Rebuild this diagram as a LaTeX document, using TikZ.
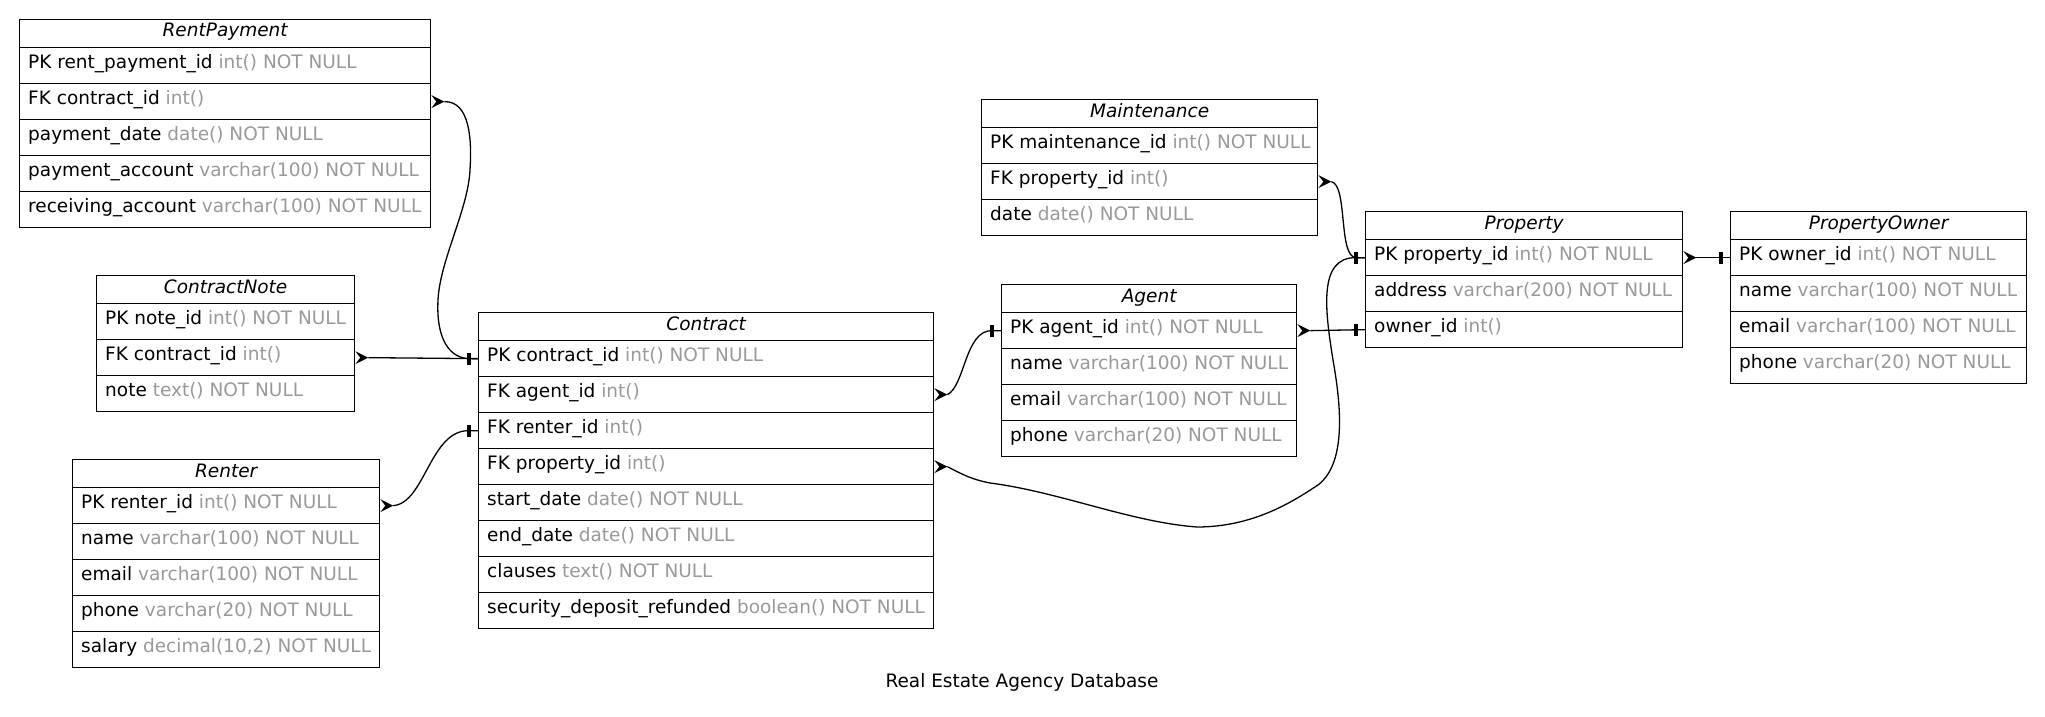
\documentclass[tikz,border=0pt]{standalone}
\usepackage{fontspec}
\setmainfont{DejaVu Sans}
\usetikzlibrary{calc}
\definecolor{typegray}{RGB}{153,153,153}
\tikzset{
  hdrbox/.style={draw, line width=1.3, rectangle, inner sep=0, minimum height=28, anchor=north west},
  rowbox/.style={draw, line width=1.3, rectangle, inner sep=0, minimum height=36, anchor=north west},
  hdrtext/.style={anchor=base, inner sep=0, font=\fontsize{18.5}{22}\selectfont\itshape},
  rowtext/.style={anchor=base west, inner sep=0, font=\fontsize{18.5}{22}\selectfont},
  titletext/.style={anchor=base, inner sep=0, font=\fontsize{18.5}{22}\selectfont},
  conn/.style={line width=1.3}
}
\newcommand{\erhead}[5]{%
  \node[hdrbox, minimum width=#4] (#1) at (#2,#3) {};
  \node[hdrtext] (#1-t) at ([yshift=-18]#1.north) {#5};
}
\newcommand{\errow}[6]{%
  \node[rowbox, minimum width=#4] (#1) at (#2,#3) {};
  \node[rowtext] (#1-t) at ([xshift=9,yshift=-21.5]#1.north west) {#5 \textcolor{typegray}{#6}};
}
\newcommand{\teeat}[1]{\fill ($(#1)+(-11,-6)$) rectangle ($(#1)+(-7,6)$);}
\newcommand{\crowat}[1]{\fill ($(#1)+(0,-6.5)$) -- ($(#1)+(13,0)$) -- ($(#1)+(0,6.5)$) -- ($(#1)+(5,0)$) -- cycle;}
\begin{document}
\begin{tikzpicture}[x=1pt,y=-1pt]
\useasboundingbox (0,0) rectangle (2045,717);
\fill[white] (0,0) rectangle (2045,717);

% RentPayment
\erhead{rp}{19}{19}{411}{RentPayment}
\errow{rp1}{19}{47}{411}{PK rent\_payment\_id}{int() NOT NULL}
\errow{rp2}{19}{83}{411}{FK contract\_id}{int()}
\errow{rp3}{19}{119}{411}{payment\_date}{date() NOT NULL}
\errow{rp4}{19}{155}{411}{payment\_account}{varchar(100) NOT NULL}
\errow{rp5}{19}{191}{411}{receiving\_account}{varchar(100) NOT NULL}

% ContractNote
\erhead{cn}{96}{275}{258}{ContractNote}
\errow{cn1}{96}{303}{258}{PK note\_id}{int() NOT NULL}
\errow{cn2}{96}{339}{258}{FK contract\_id}{int()}
\errow{cn3}{96}{375}{258}{note}{text() NOT NULL}

% Renter
\erhead{rn}{72}{459}{307}{Renter}
\errow{rn1}{72}{487}{307}{PK renter\_id}{int() NOT NULL}
\errow{rn2}{72}{523}{307}{name}{varchar(100) NOT NULL}
\errow{rn3}{72}{559}{307}{email}{varchar(100) NOT NULL}
\errow{rn4}{72}{595}{307}{phone}{varchar(20) NOT NULL}
\errow{rn5}{72}{631}{307}{salary}{decimal(10,2) NOT NULL}

% Contract
\erhead{ct}{478}{312}{455}{Contract}
\errow{ct1}{478}{340}{455}{PK contract\_id}{int() NOT NULL}
\errow{ct2}{478}{376}{455}{FK agent\_id}{int()}
\errow{ct3}{478}{412}{455}{FK renter\_id}{int()}
\errow{ct4}{478}{448}{455}{FK property\_id}{int()}
\errow{ct5}{478}{484}{455}{start\_date}{date() NOT NULL}
\errow{ct6}{478}{520}{455}{end\_date}{date() NOT NULL}
\errow{ct7}{478}{556}{455}{clauses}{text() NOT NULL}
\errow{ct8}{478}{592}{455}{security\_deposit\_refunded}{boolean() NOT NULL}

% Maintenance
\erhead{mt}{981}{99}{336}{Maintenance}
\errow{mt1}{981}{127}{336}{PK maintenance\_id}{int() NOT NULL}
\errow{mt2}{981}{163}{336}{FK property\_id}{int()}
\errow{mt3}{981}{199}{336}{date}{date() NOT NULL}

% Agent
\erhead{ag}{1001}{284}{295}{Agent}
\errow{ag1}{1001}{312}{295}{PK agent\_id}{int() NOT NULL}
\errow{ag2}{1001}{348}{295}{name}{varchar(100) NOT NULL}
\errow{ag3}{1001}{384}{295}{email}{varchar(100) NOT NULL}
\errow{ag4}{1001}{420}{295}{phone}{varchar(20) NOT NULL}

% Property
\erhead{pr}{1365}{211}{317}{Property}
\errow{pr1}{1365}{239}{317}{PK property\_id}{int() NOT NULL}
\errow{pr2}{1365}{275}{317}{address}{varchar(200) NOT NULL}
\errow{pr3}{1365}{311}{317}{owner\_id}{int()}

% PropertyOwner
\erhead{po}{1730}{211}{296}{PropertyOwner}
\errow{po1}{1730}{239}{296}{PK owner\_id}{int() NOT NULL}
\errow{po2}{1730}{275}{296}{name}{varchar(100) NOT NULL}
\errow{po3}{1730}{311}{296}{email}{varchar(100) NOT NULL}
\errow{po4}{1730}{347}{296}{phone}{varchar(20) NOT NULL}

% Connectors
% RentPayment.contract_id -> Contract.contract_id
\draw[conn] ($(rp2.east)+(13,0)$) .. controls (470,101) and (472,140) .. (470,170)
  .. controls (468,210) and (440,260) .. (438,300)
  .. controls (436,340) and (450,358) .. ($(ct1.west)+(-9,0)$) -- (ct1.west);
\crowat{rp2.east}
% ContractNote.contract_id -> Contract.contract_id
\draw[conn] ($(cn2.east)+(13,0)$) -- (ct1.west);
\crowat{cn2.east}
\teeat{ct1.west}
% Renter.renter_id -> Contract.renter_id
\draw[conn] ($(rn1.east)+(13,0)$) .. controls (425,503) and (430,430) .. ($(ct3.west)+(-9,0)$) -- (ct3.west);
\crowat{rn1.east}
\teeat{ct3.west}
% Contract.agent_id -> Agent.agent_id
\draw[conn] ($(ct2.east)+(13,0)$) .. controls (965,386) and (965,330) .. ($(ag1.west)+(-9,0)$) -- (ag1.west);
\crowat{ct2.east}
\teeat{ag1.west}
% Contract.property_id -> Property.property_id
\draw[conn] ($(ct4.east)+(13,0)$) .. controls (962,474) and (970,479) .. (990,483)
  .. controls (1060,492) and (1130,522) .. (1197,527)
  .. controls (1255,527) and (1295,500) .. (1318,485)
  .. controls (1348,462) and (1340,400) .. (1333,360)
  .. controls (1325,310) and (1318,257) .. ($(pr1.west)+(-9,0)$) -- (pr1.west);
\crowat{ct4.east}
% Maintenance.property_id -> Property.property_id
\draw[conn] ($(mt2.east)+(13,0)$) .. controls (1348,185) and (1338,257) .. ($(pr1.west)+(-9,0)$) -- (pr1.west);
\crowat{mt2.east}
\teeat{pr1.west}
% Agent.agent_id -> Property.owner_id
\draw[conn] ($(ag1.east)+(13,0)$) -- (pr3.west);
\crowat{ag1.east}
\teeat{pr3.west}
% Property.property_id -> PropertyOwner.owner_id
\draw[conn] ($(pr1.east)+(13,0)$) -- (po1.west);
\crowat{pr1.east}
\teeat{po1.west}

\node[titletext] (title) at (1022,687) {Real Estate Agency Database};
\end{tikzpicture}
\end{document}
